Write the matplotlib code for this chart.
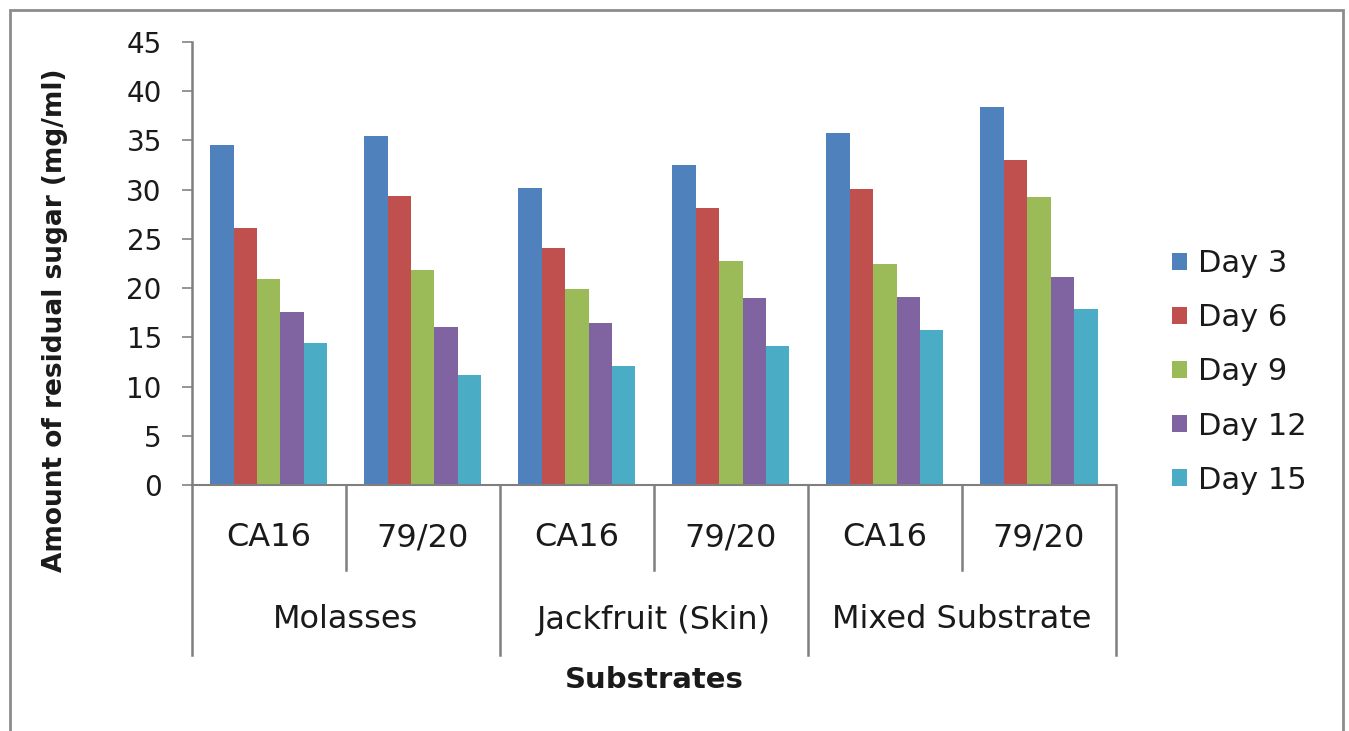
import matplotlib
matplotlib.use("Agg")
import matplotlib.pyplot as plt
import numpy as np
from matplotlib.patches import Rectangle, Patch

plt.rcParams['font.family'] = ['DejaVu Sans']

# data
strains = ['CA16', '79/20', 'CA16', '79/20', 'CA16', '79/20']
substrates = ['Molasses', 'Jackfruit (Skin)', 'Mixed Substrate']
days = ['Day 3', 'Day 6', 'Day 9', 'Day 12', 'Day 15']
day3 = [34.5, 35.5, 30.2, 32.5, 35.8, 38.4]
day6 = [26.1, 29.4, 24.1, 28.1, 30.1, 33.0]
day9 = [20.9, 21.8, 19.9, 22.8, 22.4, 29.3]
day12 = [17.6, 16.0, 16.5, 19.0, 19.1, 21.1]
day15 = [14.4, 11.2, 12.1, 14.1, 15.7, 17.9]
yticks = [0, 5, 10, 15, 20, 25, 30, 35, 40, 45]

series = [day3, day6, day9, day12, day15]
colors = ['#4F81BD', '#C0504D', '#9BBB59', '#8064A2', '#4BACC6']
txt = '#1a1a1a'

W, H = 1349, 731
fig = plt.figure(figsize=(W / 100, H / 100), dpi=100, facecolor='white')

# outer chart border
fig.patches.append(Rectangle((10 / W, -0.05), (1343 - 10) / W, 1.05 - 10 / H,
                             transform=fig.transFigure, fill=False,
                             edgecolor='#8c8c8c', linewidth=2))

ax_l, ax_r, ax_b, ax_t = 191.7, 1116, 485, 42
ax = fig.add_axes([ax_l / W, 1 - ax_b / H, (ax_r - ax_l) / W, (ax_b - ax_t) / H])

x = np.arange(len(strains))
bw = 0.152
for i, (vals, c) in enumerate(zip(series, colors)):
    ax.bar(x + (i - 2) * bw, vals, width=bw, color=c, label=days[i], zorder=2)

ax.set_xlim(-0.5, len(strains) - 0.5)
ax.set_ylim(0, 45)
ax.set_yticks(yticks)
ax.tick_params(axis='y', direction='out', length=7.5, width=1.3, color='#8c8c8c',
               labelsize=20, pad=14, labelcolor=txt)
ax.set_xticks([])
for s in ['top', 'right', 'left']:
    ax.spines[s].set_visible(False)
ax.spines['bottom'].set_color('#7f7f7f')
ax.spines['bottom'].set_linewidth(1.5)

# category axis separators (x in data, y in axes fraction)
tr = ax.get_xaxis_transform()
h_ax = ax_b - ax_t
y_sub = -(570 - ax_b) / h_ax
y_grp = -(655 - ax_b) / h_ax
ax.plot([-0.5, -0.5], [1, y_grp], transform=tr, color='#7f7f7f', lw=1.8, clip_on=False)
for k in range(1, len(strains) + 1):
    edge = k - 0.5
    ybot = y_grp if k % 2 == 0 else y_sub
    ax.plot([edge, edge], [0, ybot], transform=tr, color='#7f7f7f', lw=1.8, clip_on=False)

y_strain = -(538 - ax_b) / h_ax
y_subs = -(620 - ax_b) / h_ax
for xi, lab in zip(x, strains):
    ax.text(xi, y_strain, lab, transform=tr, ha='center', va='center',
            fontsize=23, color=txt)
for g, lab in enumerate(substrates):
    ax.text(2 * g + 0.5, y_subs, lab, transform=tr, ha='center', va='center',
            fontsize=23, color=txt)

ax.text(2.5, -(680 - ax_b) / h_ax, 'Substrates', transform=tr, ha='center',
        va='center', fontsize=21, fontweight='bold', color=txt)
fig.text(55 / W, 1 - 320 / H, 'Amount of residual sugar (mg/ml)', rotation=90,
         ha='center', va='center', fontsize=19, fontweight='bold', color=txt)

handles = [Patch(facecolor=c, label=d) for c, d in zip(colors, days)]
fig.legend(handles=handles, loc='center left', bbox_to_anchor=(1172 / W, 1 - 372 / H),
           frameon=False, fontsize=22, handlelength=0.5, handleheight=0.5,
           handletextpad=0.35, labelspacing=0.82, borderpad=0, borderaxespad=0,
           labelcolor=txt)

fig.savefig('out.png', dpi=100, facecolor='white')
